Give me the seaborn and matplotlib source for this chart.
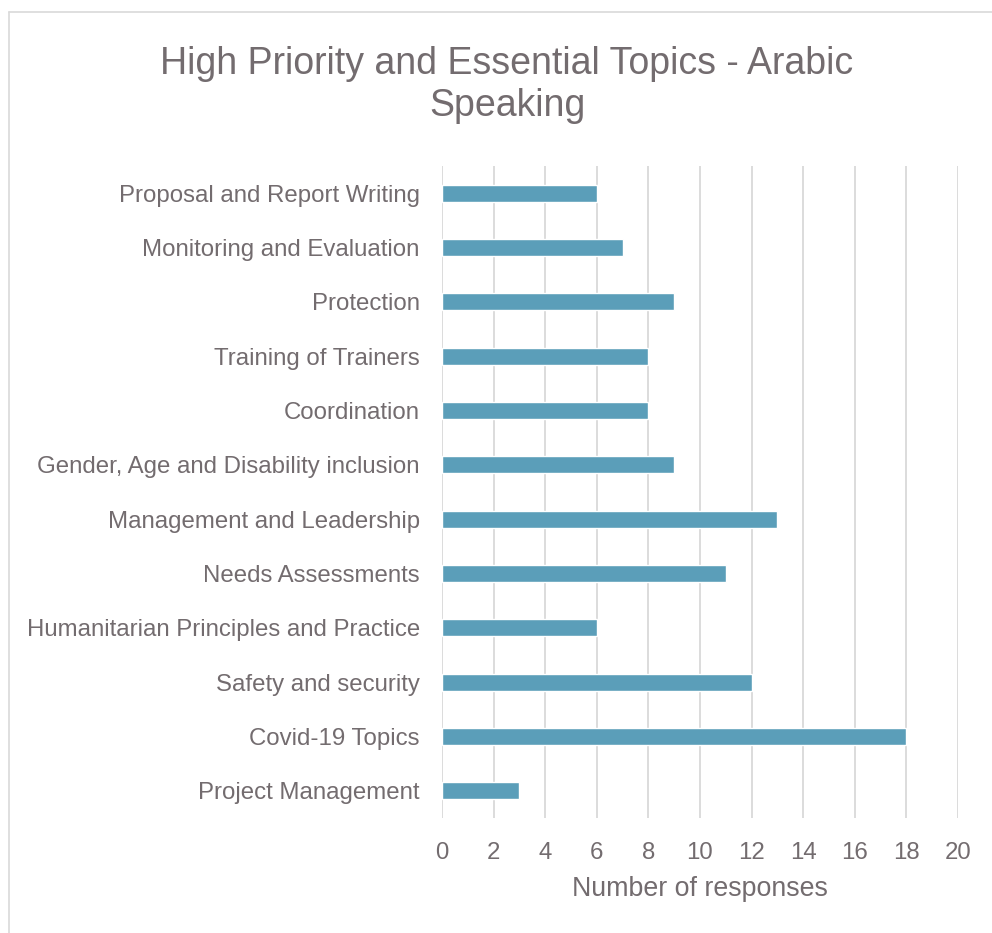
import matplotlib
matplotlib.use("Agg")
import matplotlib.pyplot as plt
import seaborn as sns
import pandas as pd
from matplotlib.lines import Line2D

topics = [
    "Proposal and Report Writing",
    "Monitoring and Evaluation",
    "Protection",
    "Training of Trainers",
    "Coordination",
    "Gender, Age and Disability inclusion",
    "Management and Leadership",
    "Needs Assessments",
    "Humanitarian Principles and Practice",
    "Safety and security",
    "Covid-19 Topics",
    "Project Management",
]
responses = [6, 7, 9, 8, 8, 9, 13, 11, 6, 12, 18, 3]
x_ticks = [0, 2, 4, 6, 8, 10, 12, 14, 16, 18, 20]

sns.set_theme(style="white")
plt.rcParams["font.family"] = ["Liberation Sans", "DejaVu Sans"]

text_color = "#736C6F"
bar_color = "#5B9EB9"
grid_color = "#D9D9D9"

W, H = 992, 933
fig = plt.figure(figsize=(W / 100, H / 100), dpi=100)
ax = fig.add_axes([442 / W, 1 - 818 / H, (958 - 442) / W, (818 - 166) / H])

df = pd.DataFrame({"topic": topics, "responses": responses})
sns.barplot(data=df, x="responses", y="topic", orient="h", color=bar_color,
            saturation=1, width=0.31, ax=ax, zorder=3)

ax.set_xlim(0, 20)
ax.set_xticks(x_ticks)
ax.set_xticklabels([str(t) for t in x_ticks])
ax.grid(axis="x", color=grid_color, linewidth=1.3, zorder=0)
ax.grid(axis="y", visible=False)
for s in ax.spines.values():
    s.set_visible(False)
ax.tick_params(axis="both", length=0, colors=text_color, labelsize=17.3)
ax.tick_params(axis="x", pad=17)
ax.tick_params(axis="y", pad=16)
ax.set_ylabel("")
ax.set_xlabel("Number of responses", fontsize=19.3, color=text_color, labelpad=9)

fig.text(507 / W, 1 - 85 / H, "High Priority and Essential Topics - Arabic\nSpeaking",
         ha="center", va="center", fontsize=27, color=text_color, linespacing=1.22)

# outer border (chart frame)
fig.add_artist(Line2D([9 / W, 9 / W], [0, 1 - 12 / H], transform=fig.transFigure,
                      color="#D9D9D9", linewidth=1.2))
fig.add_artist(Line2D([9 / W, 1], [1 - 12 / H, 1 - 12 / H], transform=fig.transFigure,
                      color="#D9D9D9", linewidth=1.2))

fig.savefig("out.png", dpi=100, facecolor="white")
